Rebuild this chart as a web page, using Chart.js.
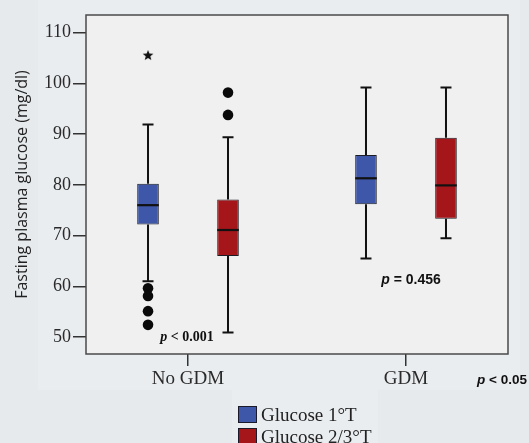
<!DOCTYPE html>
<html><head><meta charset="utf-8">
<script src="https://cdn.jsdelivr.net/npm/chart.js@4.4.0/dist/chart.umd.min.js"></script>
<style>
html,body{margin:0;padding:0;width:529px;height:443px;overflow:hidden;background:#e6eaed;}
#wrap{position:relative;width:529px;height:443px;}
#c{position:absolute;left:0;top:0;}
#legend{position:absolute;left:238px;top:404px;font-family:'Liberation Serif','Times New Roman',serif;font-size:19px;color:#222;}
.row{display:flex;align-items:center;height:21.5px;line-height:19px;}
.sw{box-sizing:border-box;width:19px;height:17px;border:1px solid #1a1a2a;margin-right:4px;}
</style></head>
<body><div id="wrap"><canvas id="c" width="529" height="443"></canvas><div id="legend"></div></div>
<script>
// ---- data ----
const categories = ['No GDM', 'GDM'];
const seriesNames = ['Glucose 1°T', 'Glucose 2/3°T'];
const t1Min    = [61.0, 65.5];
const t1Q1     = [72.2, 76.2];
const t1Median = [76.0, 81.3];
const t1Q3     = [80.2, 85.9];
const t1Max    = [91.9, 99.2];
const t1Outliers = [[59.6, 58.1, 55.1, 52.4], []];
const t1Extremes = [[105.6], []];
const t23Min    = [50.9, 69.5];
const t23Q1     = [66.0, 73.3];
const t23Median = [71.1, 79.9];
const t23Q3     = [77.1, 89.3];
const t23Max    = [89.4, 99.2];
const t23Outliers = [[98.2, 93.8], []];
const t23Extremes = [[], []];
const yTicks = [50, 60, 70, 80, 90, 100, 110];
const groupPValues = ['0.001', '0.456'];
const groupPSigns = ['<', '='];
const overallP = 'p < 0.05';

// ---- styles / layout ----
const COLORS = ['#3e57a9', '#a5161b'];
const CAT_PCT = 0.734;
const BAR_PCT = 0.27;
const SERIF = "'Liberation Serif','Times New Roman',serif";
const SANS = "'Liberation Sans',Arial,sans-serif";

const series = [
  {name: seriesNames[0], min: t1Min, q1: t1Q1, med: t1Median, q3: t1Q3, max: t1Max, out: t1Outliers, ext: t1Extremes},
  {name: seriesNames[1], min: t23Min, q1: t23Q1, med: t23Median, q3: t23Q3, max: t23Max, out: t23Outliers, ext: t23Extremes}
];

// star point style
const starImg = document.createElement('canvas');
starImg.width = 12; starImg.height = 12;
(function(){
  const g = starImg.getContext('2d');
  g.fillStyle = '#111';
  g.beginPath();
  for (let k = 0; k < 10; k++) {
    const r = k % 2 === 0 ? 5.6 : 2.4;
    const a = -Math.PI / 2 + k * Math.PI / 5;
    const px = 6 + r * Math.cos(a), py = 6.5 + r * Math.sin(a);
    if (k === 0) g.moveTo(px, py); else g.lineTo(px, py);
  }
  g.closePath(); g.fill();
})();

const datasets = [];
series.forEach((s, si) => {
  datasets.push({
    type: 'bar', label: s.name,
    data: categories.map((c, i) => ({x: i + 1, y: [s.q1[i], s.q3[i]]})),
    backgroundColor: COLORS[si], borderColor: '#1c1c24', borderWidth: 1, borderSkipped: false,
    categoryPercentage: CAT_PCT, barPercentage: BAR_PCT,
    whiskerMin: s.min, whiskerMax: s.max, median: s.med, order: 2
  });
});
series.forEach((s, si) => {
  const off = (si - 0.5) * CAT_PCT / 2;
  const pts = [], ext = [];
  categories.forEach((c, i) => {
    s.out[i].forEach(v => pts.push({x: i + 1 + off, y: v}));
    s.ext[i].forEach(v => ext.push({x: i + 1 + off, y: v}));
  });
  datasets.push({type: 'scatter', label: s.name + ' outliers', data: pts, pointRadius: 5.3, pointBackgroundColor: '#0a0a0a', pointBorderWidth: 0, order: 1});
  datasets.push({type: 'scatter', label: s.name + ' extremes', data: ext, pointStyle: starImg, pointRadius: 6, order: 1});
});

const bgPlugin = {
  id: 'bg',
  beforeDraw(chart) {
    const {ctx, chartArea: a} = chart;
    ctx.save();
    ctx.fillStyle = '#e6eaed'; ctx.fillRect(0, 0, chart.width, chart.height);
    ctx.fillStyle = '#eaedf0'; ctx.fillRect(38, 0, 482, 390);
    ctx.fillStyle = '#eaedf0'; ctx.fillRect(232, 390, 146, 53);
    ctx.fillStyle = '#f0f0f0'; ctx.fillRect(a.left, a.top, a.right - a.left, a.bottom - a.top);
    ctx.restore();
  },
  afterDraw(chart) {
    const {ctx, chartArea: a} = chart;
    ctx.save();
    ctx.strokeStyle = '#4a4a4a'; ctx.lineWidth = 1.5;
    ctx.strokeRect(a.left, a.top, a.right - a.left, a.bottom - a.top);
    ctx.restore();
  }
};

function drawRich(ctx, parts, x, y, align) {
  let w = 0;
  parts.forEach(p => { ctx.font = p.font; w += ctx.measureText(p.text).width; });
  let cx = align === 'right' ? x - w : align === 'center' ? x - w / 2 : x;
  ctx.textAlign = 'left'; ctx.textBaseline = 'middle';
  parts.forEach(p => { ctx.font = p.font; ctx.fillText(p.text, cx, y); cx += ctx.measureText(p.text).width; });
}

const ANNOT = [
  {cat: 0, y: 50, dx: -1, family: SERIF, size: 14},
  {cat: 1, y: 61.2, dx: 5, family: SANS, size: 14}
];

const boxPlugin = {
  id: 'box',
  afterDatasetsDraw(chart) {
    const {ctx} = chart;
    const ys = chart.scales.y, xs = chart.scales.x;
    ctx.save();
    chart.data.datasets.forEach((ds, di) => {
      if (ds.type !== 'bar') return;
      const meta = chart.getDatasetMeta(di);
      meta.data.forEach((el, i) => {
        const x = el.x, hw = el.width / 2;
        const yMin = ys.getPixelForValue(ds.whiskerMin[i]);
        const yMax = ys.getPixelForValue(ds.whiskerMax[i]);
        const yQ1 = ys.getPixelForValue(ds.data[i].y[0]);
        const yQ3 = ys.getPixelForValue(ds.data[i].y[1]);
        const yMed = ys.getPixelForValue(ds.median[i]);
        ctx.strokeStyle = '#111'; ctx.lineWidth = 2;
        ctx.beginPath();
        ctx.moveTo(x, yQ3); ctx.lineTo(x, yMax);
        ctx.moveTo(x - 5.5, yMax); ctx.lineTo(x + 5.5, yMax);
        ctx.moveTo(x, yQ1); ctx.lineTo(x, yMin);
        ctx.moveTo(x - 5.5, yMin); ctx.lineTo(x + 5.5, yMin);
        ctx.stroke();
        ctx.lineWidth = 2.2;
        ctx.beginPath(); ctx.moveTo(x - hw, yMed); ctx.lineTo(x + hw, yMed); ctx.stroke();
      });
    });
    // p-value annotations
    ctx.fillStyle = '#111';
    ANNOT.forEach((a, i) => {
      const px = xs.getPixelForValue(a.cat + 1) + a.dx;
      const py = ys.getPixelForValue(a.y);
      drawRich(ctx, [
        {text: 'p', font: `italic bold ${a.size}px ${a.family}`},
        {text: ' ' + groupPSigns[i] + ' ' + groupPValues[i], font: `bold ${a.size}px ${a.family}`}
      ], px, py, 'center');
    });
    drawRich(ctx, [
      {text: overallP.slice(0, 1), font: `italic bold 13.5px ${SANS}`},
      {text: overallP.slice(1), font: `bold 13.5px ${SANS}`}
    ], 527, 380, 'right');
    ctx.restore();
  }
};

const chart = new Chart(document.getElementById('c'), {
  type: 'bar',
  data: {datasets},
  options: {
    responsive: false, animation: false,
    layout: {padding: {left: 0, right: 21, top: 15, bottom: 0}},
    plugins: {legend: {display: false}, tooltip: {enabled: false}},
    scales: {
      x: {
        type: 'linear', min: 0.532, max: 2.468, offset: false,
        afterBuildTicks: s => { s.ticks = categories.map((c, i) => ({value: i + 1})); },
        afterFit: s => { s.height = 89; },
        ticks: {callback: v => categories[v - 1], font: {family: SERIF, size: 19}, color: '#2a2a2a', padding: 2, maxRotation: 0, autoSkip: false},
        grid: {drawOnChartArea: false, offset: false, tickLength: 12, color: '#333', lineWidth: 1.5},
        border: {display: false}
      },
      y: {
        type: 'linear', min: 46.65, max: 113.5,
        afterBuildTicks: s => { s.ticks = yTicks.map(v => ({value: v})); },
        afterFit: s => { s.width = 86; },
        ticks: {font: {family: SERIF, size: 18}, color: '#2a2a2a', padding: 2},
        grid: {drawOnChartArea: false, tickLength: 13, color: '#333', lineWidth: 1.5},
        border: {display: false},
        title: {display: true, text: 'Fasting plasma glucose (mg/dl)', font: {family: "'Open Sans',sans-serif", size: 16}, color: '#222', padding: {top: 12.4, bottom: 0}}
      }
    }
  },
  plugins: [bgPlugin, boxPlugin]
});

// HTML legend built from the bar datasets
const lg = document.getElementById('legend');
chart.data.datasets.filter(d => d.type === 'bar').forEach(d => {
  const row = document.createElement('div'); row.className = 'row';
  const sw = document.createElement('span'); sw.className = 'sw'; sw.style.background = d.backgroundColor;
  const tx = document.createElement('span'); tx.textContent = d.label;
  row.appendChild(sw); row.appendChild(tx); lg.appendChild(row);
});
</script>
</body></html>
